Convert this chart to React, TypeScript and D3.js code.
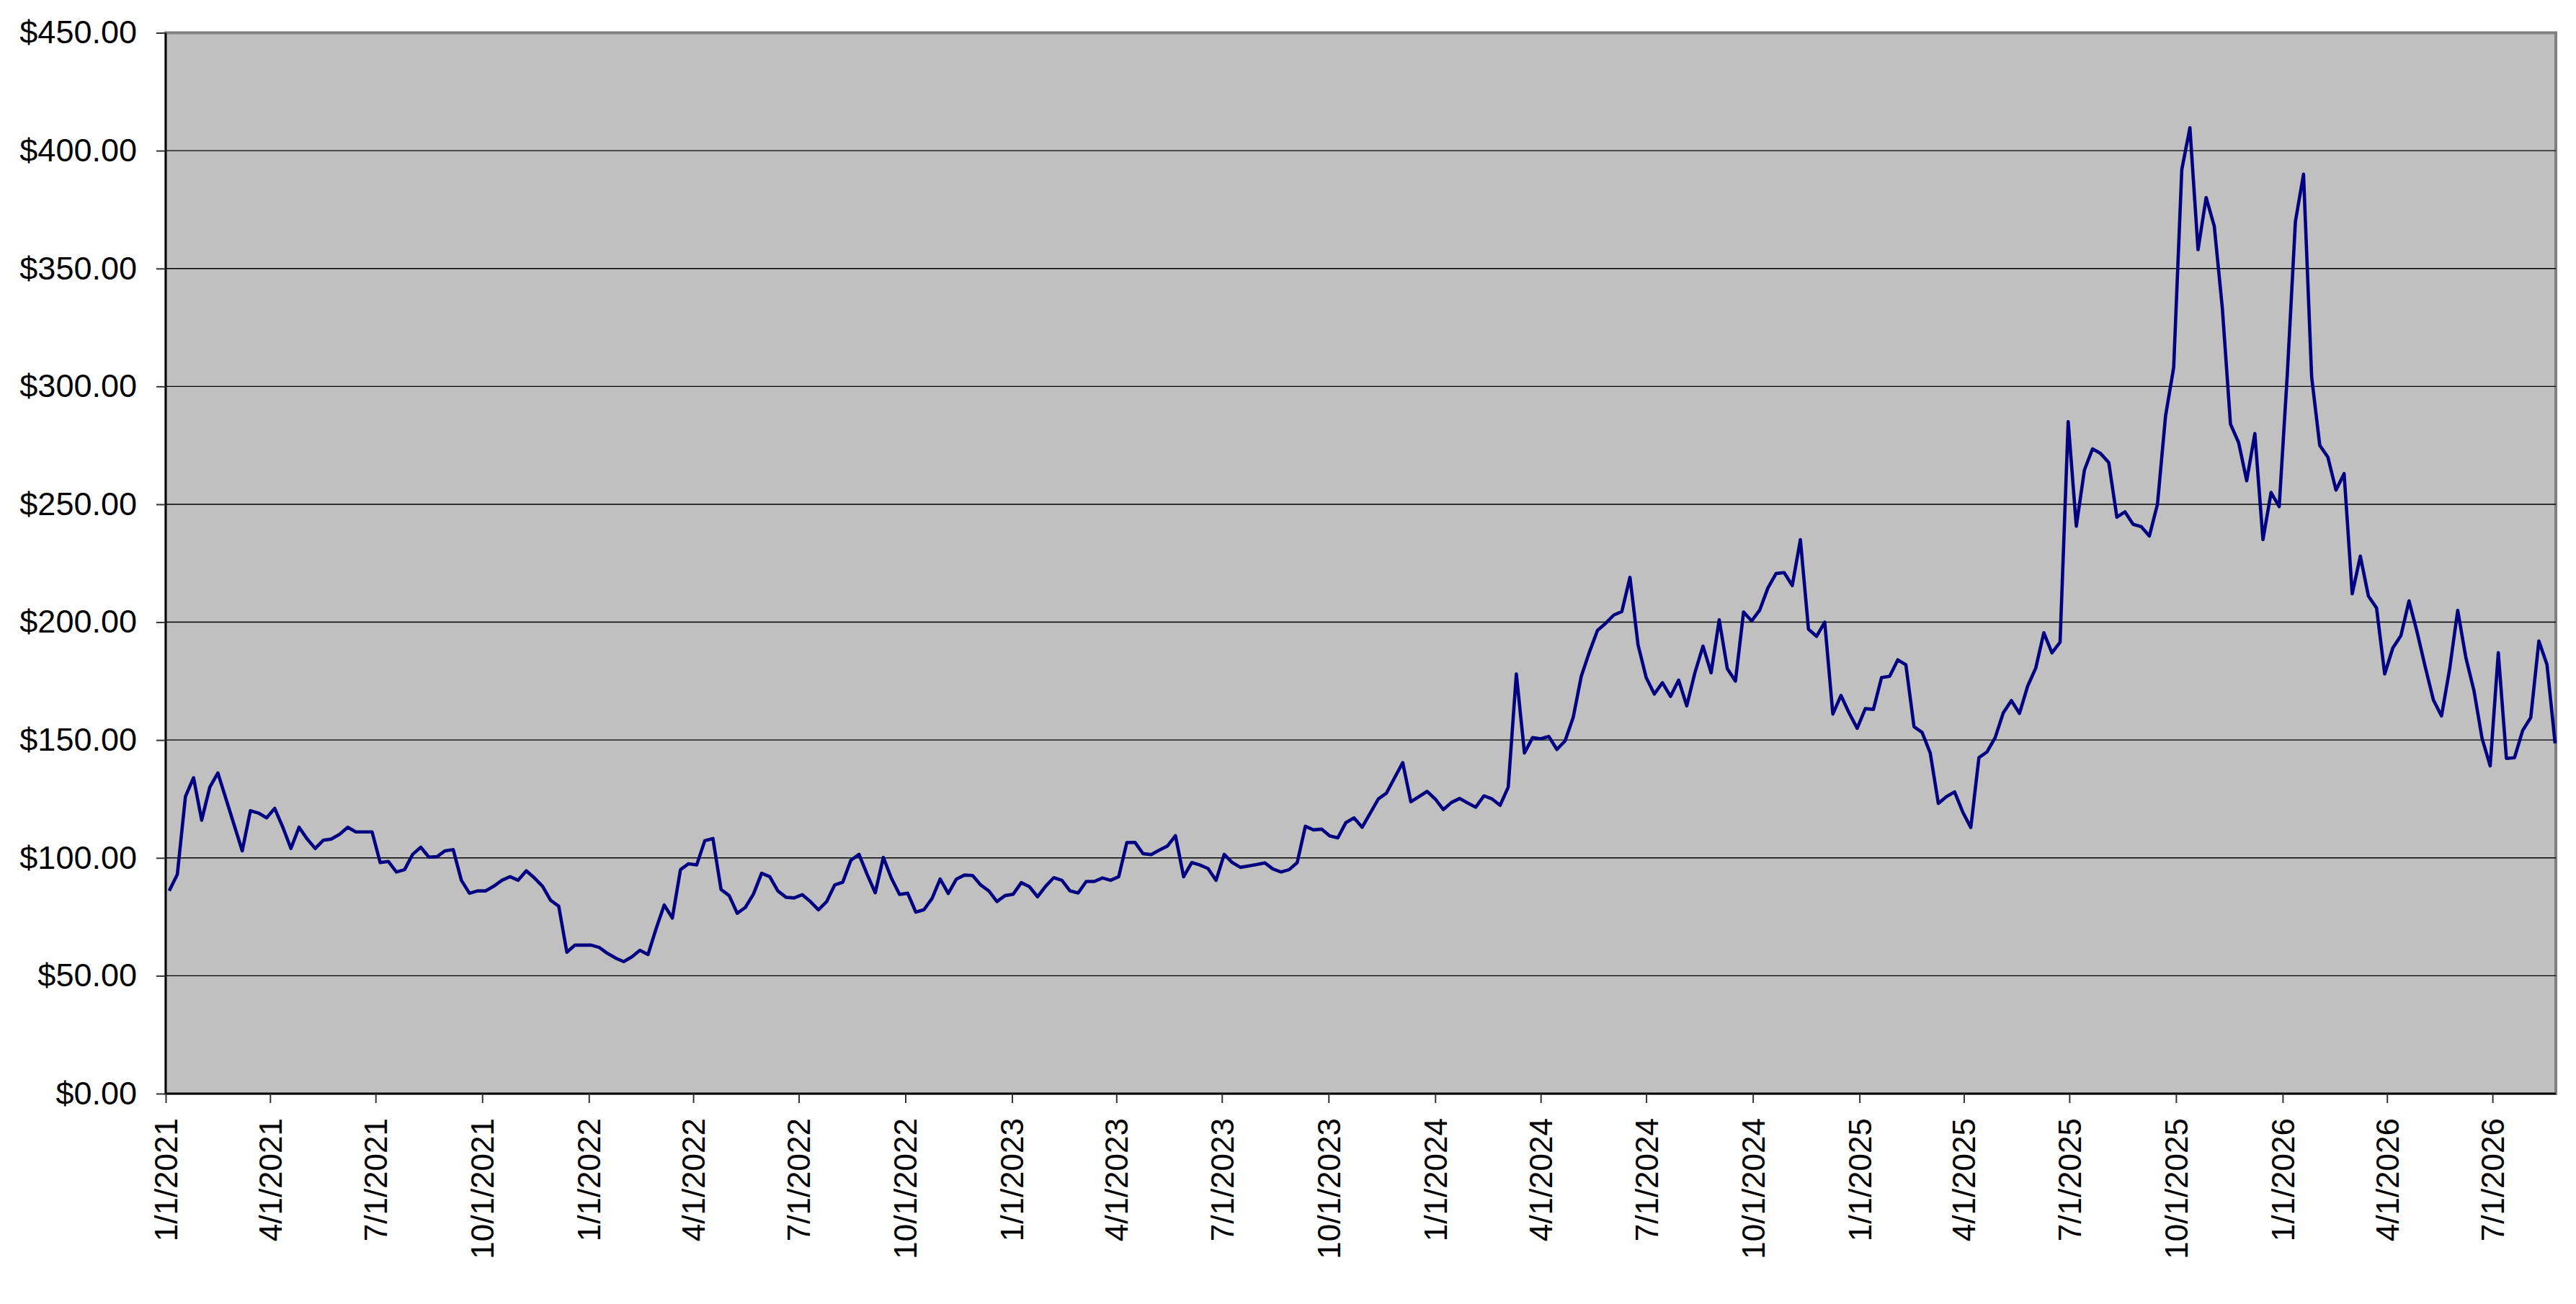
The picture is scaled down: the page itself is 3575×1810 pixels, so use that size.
import React, { useEffect, useRef } from "react";
import * as d3 from "d3";

// weekly closing prices; each list starts on the Monday in weekStarts
const weekStarts = ["2021-01-04", "2022-01-03", "2023-01-02", "2024-01-01", "2024-12-30", "2025-12-29"];

const closes2021 = [
  86, 93, 126, 134, 116, 130, 136, 125, 114, 103,
  120, 119, 117, 121, 113, 104, 113, 108, 104, 107.5,
  108, 110, 113, 111, 111, 111, 98, 98.5, 94, 95,
  101.5, 104.5, 100.3, 100.5, 103, 103.5, 90.5, 85, 86, 86,
  88, 90.5, 92, 90.5, 94.5, 91.5, 88, 82, 79.5, 60,
  63, 63,
];
const closes2022 = [
  63, 62, 59.5, 57.5, 56, 58, 60.8, 59, 70, 80,
  74.5, 95, 97.5, 97, 107.3, 108.2, 86.6, 84, 76.5, 79,
  84.7, 93.5, 92, 86, 83.3, 83, 84.4, 81.5, 78, 81.4,
  88.5, 89.7, 99, 101.5, 93, 85.2, 100.2, 91.3, 84.5, 85,
  77, 78, 82.8, 91, 84.9, 91, 92.7, 92.5, 88.5, 86,
  81.5, 84,
];
const closes2023 = [
  84.6, 89.5, 87.8, 83.5, 88, 91.6, 90.5, 86, 85.1, 90,
  90, 91.5, 90.5, 92, 106.5, 106.6, 101.8, 101.4, 103.3, 105,
  109.4, 92, 98, 97, 95.5, 90.5, 101.5, 98, 96, 96.6,
  97.2, 97.9, 95.3, 94, 95, 98, 113.4, 111.9, 112.2, 109.3,
  108.5, 115, 117, 113, 119, 125, 127.5, 134, 140.4, 123.8,
  126, 128.2,
];
const closes2024 = [
  125, 120.5, 123.5, 125.2, 123.3, 121.5, 126.3, 125, 122.3, 130,
  178, 144.5, 151, 150.5, 151.5, 146, 149.6, 159.5, 177, 187.3,
  196.5, 199.5, 203, 204.5, 219, 190.3, 176.5, 169.5, 174.3, 168.5,
  175.4, 164.5, 178.5, 189.8, 178.5, 201, 180.2, 175, 204.3, 200.5,
  205.2, 214.5, 220.6, 221, 215.5, 235, 197, 194, 200, 161,
  168.9, 161.5,
];
const closes2025 = [
  155, 163.3, 163, 176.5, 177, 184, 181.9, 155.7, 153.2, 144.5,
  123.1, 126, 128, 119.5, 112.9, 142.5, 145, 151, 161.5, 166.7,
  161.3, 172.8, 180.5, 195.5, 187, 191.5, 285, 240.7, 264.5, 273.5,
  271.5, 267.7, 244.5, 246.8, 241.5, 240.5, 236.5, 250, 287.5, 308,
  392, 409.7, 358, 380.1, 368, 333, 284, 276.2, 260, 280,
  235, 255,
];
const closes2026 = [
  249, 305, 370, 390, 304, 275, 270, 256, 263, 212,
  228, 211, 206, 178, 189, 194.3, 209, 195.7, 181, 167,
  160.2, 180, 205, 185, 171, 150.7, 139, 187, 142.2, 142.5,
  154, 159.5, 192, 182, 148.6,
];

const axisStart = "2021-01-01";
const axisEnd = "2026-08-24";
const priceTicks = [0, 50, 100, 150, 200, 250, 300, 350, 400, 450];

const FONT = "'Liberation Sans', Arial, sans-serif";

const App: React.FC = () => {
  const svgRef = useRef<SVGSVGElement | null>(null);

  useEffect(() => {
    if (!svgRef.current) return;
    const svg = d3.select(svgRef.current);
    svg.selectAll("*").remove();

    const width = 3575;
    const height = 1810;
    const plot = { left: 230, right: 3547, top: 45.5, bottom: 1518 };

    svg.attr("width", width).attr("height", height);

    const parse = d3.timeParse("%Y-%m-%d");
    const series = [closes2021, closes2022, closes2023, closes2024, closes2025, closes2026];
    const data = series.flatMap((vals, i) => {
      const start = parse(weekStarts[i])!;
      return vals.map((v, j) => ({ date: d3.timeDay.offset(start, 7 * j), value: v }));
    });

    const x = d3
      .scaleTime()
      .domain([parse(axisStart)!, parse(axisEnd)!])
      .range([plot.left, plot.right - 1]);

    const y = d3.scaleLinear().domain([0, 450]).range([plot.bottom, plot.top]);

    // plot area
    svg
      .append("rect")
      .attr("x", plot.left)
      .attr("y", plot.top)
      .attr("width", plot.right - plot.left)
      .attr("height", plot.bottom - plot.top)
      .attr("fill", "#C0C0C0")
      .attr("stroke", "#808080")
      .attr("stroke-width", 4);

    // gridlines
    svg
      .append("g")
      .selectAll("line")
      .data(priceTicks.filter((t) => t > 0 && t < 450))
      .join("line")
      .attr("x1", plot.left)
      .attr("x2", plot.right)
      .attr("y1", (d) => y(d))
      .attr("y2", (d) => y(d))
      .attr("stroke", "#000")
      .attr("stroke-width", 1.4);

    // price line
    const line = d3
      .line<{ date: Date; value: number }>()
      .x((d) => x(d.date))
      .y((d) => y(d.value));

    svg
      .append("path")
      .datum(data)
      .attr("d", line)
      .attr("fill", "none")
      .attr("stroke", "#000080")
      .attr("stroke-width", 4.6)
      .attr("stroke-linejoin", "round");

    // axis lines
    svg
      .append("line")
      .attr("x1", plot.left)
      .attr("x2", plot.left)
      .attr("y1", plot.top)
      .attr("y2", plot.bottom)
      .attr("stroke", "#000")
      .attr("stroke-width", 2.5);
    svg
      .append("line")
      .attr("x1", plot.left)
      .attr("x2", plot.right)
      .attr("y1", plot.bottom)
      .attr("y2", plot.bottom)
      .attr("stroke", "#000")
      .attr("stroke-width", 2.5);

    // y axis
    const yAxis = svg
      .append("g")
      .attr("transform", `translate(${plot.left},0)`)
      .call(
        d3
          .axisLeft(y)
          .tickValues(priceTicks)
          .tickSize(13)
          .tickPadding(27)
          .tickFormat((d) => d3.format("$.2f")(d as number))
      );
    yAxis.select(".domain").remove();
    yAxis.selectAll("line").attr("stroke", "#333").attr("stroke-width", 2);
    yAxis
      .selectAll("text")
      .attr("font-family", FONT)
      .attr("font-size", 45)
      .attr("fill", "#000");

    // x axis, quarterly
    const quarters = d3.timeMonth.every(3)!.range(parse(axisStart)!, parse(axisEnd)!);
    const xAxis = svg
      .append("g")
      .attr("transform", `translate(0,${plot.bottom})`)
      .call(
        d3
          .axisBottom(x)
          .tickValues(quarters)
          .tickSize(13)
          .tickFormat((d) => d3.timeFormat("%-m/%-d/%Y")(d as Date))
      );
    xAxis.select(".domain").remove();
    xAxis.selectAll("line").attr("stroke", "#333").attr("stroke-width", 2);
    xAxis
      .selectAll("text")
      .attr("transform", "rotate(-90)")
      .attr("text-anchor", "end")
      .attr("x", -34)
      .attr("y", 0)
      .attr("dy", "0.35em")
      .attr("font-family", FONT)
      .attr("font-size", 44)
      .attr("fill", "#000");
  }, []);

  return (
    <svg
      ref={svgRef}
      style={{ position: "absolute", left: 0, top: 0, display: "block", background: "#fff" }}
    ></svg>
  );
};

export default App;
